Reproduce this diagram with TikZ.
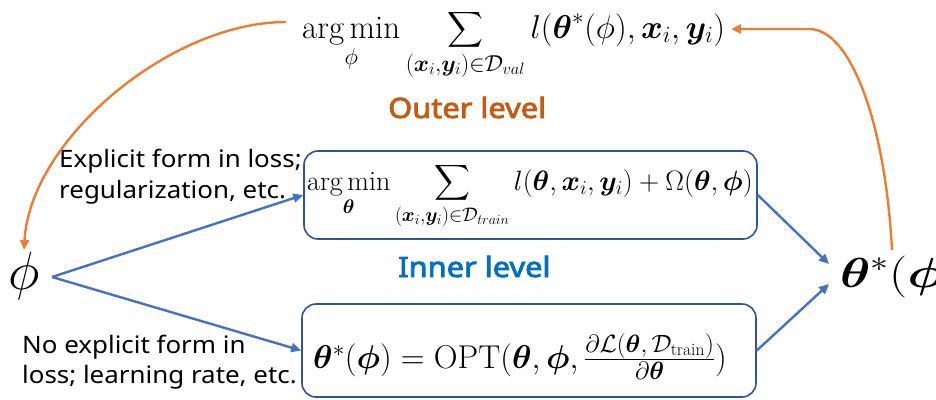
\RequirePackage{fix-cm}
\documentclass[tikz,border=0pt]{standalone}
\usepackage{amsmath,bm,graphicx}
\usepackage{fontspec}
\newfontfamily\sansf{Noto Sans}[FakeStretch=1.08]
\newfontfamily\sansbf{Noto Sans}[FakeBold=3, FakeStretch=1.1]
\usetikzlibrary{arrows.meta}
\definecolor{orangeA}{HTML}{ED7D31}
\definecolor{orangeT}{HTML}{C55A11}
\definecolor{blueA}{HTML}{4472C4}
\definecolor{blueT}{HTML}{0070C0}
\definecolor{boxB}{HTML}{2F5597}
\newcommand{\smallfr}[1]{\text{\fontsize{25}{30}\selectfont$#1$}}
\begin{document}
\begin{tikzpicture}[x=1pt,y=-1pt,
  mbox/.style={draw=boxB, line width=1.6pt, rounded corners=14pt, inner sep=0pt},
  formula/.style={inner sep=0pt, anchor=base},
  bluearrow/.style={draw=blueA, line width=2.4pt, -{Triangle[length=10pt,width=9pt]}},
  orangearrow/.style={draw=orangeA, line width=2.4pt, -{Triangle[length=10pt,width=9pt]}},
  lbl/.style={font=\sansf\fontsize{24}{28}\selectfont, inner sep=0pt, anchor=base west},
  lvl/.style={font=\sansbf\fontsize{28}{32}\selectfont, inner sep=0pt, anchor=base west}]
\useasboundingbox (0,0) rectangle (936,399);
% top formula
\node[inner sep=0pt, anchor=base west] (outer) at (302,38)
  {\fontsize{33}{40}\selectfont $\displaystyle \mathop{\arg\min}_{\phi}\sum_{(\bm{x}_i,\bm{y}_i)\in\mathcal{D}_{val}} l(\bm{\theta}^*(\phi),\bm{x}_i,\bm{y}_i)$};
\node[lvl, text=orangeT] (outerlbl) at (388,118) {Outer level};
% boxes
\node[mbox, minimum width=453pt, minimum height=88pt] (inner1) at (530.5,195) {};
\node[formula] (f1) at (530,190)
  {\fontsize{28}{34}\selectfont $\displaystyle \mathop{\arg\min}_{\bm{\theta}}\sum_{(\bm{x}_i,\bm{y}_i)\in\mathcal{D}_{train}} l(\bm{\theta},\bm{x}_i,\bm{y}_i)+\Omega(\bm{\theta},\bm{\phi})$};
\node[mbox, minimum width=454pt, minimum height=93pt] (inner2) at (529,350.5) {};
\node[formula] (f2) at (520,368)
  {\fontsize{33}{40}\selectfont $\bm{\theta}^*(\bm{\phi})=\mathrm{OPT}(\bm{\theta},\bm{\phi},\frac{\smallfr{\partial\mathcal{L}(\bm{\theta},\mathcal{D}_{\mathrm{train}})}}{\smallfr{\partial\bm{\theta}}})$};
\node[lvl, text=blueT] (innerlbl) at (398,277) {Inner level};
% side labels
\node[lbl] (e1) at (59,167) {Explicit form in loss;};
\node[lbl] (e2) at (59,198) {regularization, etc.};
\node[lbl] (n1) at (22,353) {No explicit form in};
\node[lbl] (n2) at (22,383) {loss; learning rate, etc.};
% phi and theta
\node[inner sep=0pt] (phi) at (24,276) {\fontsize{54}{60}\selectfont$\phi$};
\node[anchor=base west, inner sep=0pt] (theta) at (840,287) {\scalebox{1.22}[1]{\fontsize{42}{50}\selectfont$\bm{\theta}^*(\bm{\phi})$}};
% connector ends
\coordinate (phiR) at (52,277);
\coordinate (thA) at (829,264);
\coordinate (thB) at (829,284);
\coordinate (outL) at (286,22);
\coordinate (phiT) at (24,250);
\coordinate (thT) at (892,250);
\coordinate (outR) at (731,29);
% arrows
\draw[bluearrow] (phiR) -- (inner1.west);
\draw[bluearrow] (phiR) -- (inner2.west);
\draw[bluearrow] (inner1.east) -- (thA);
\draw[bluearrow] (inner2.east) -- (thB);
\draw[orangearrow] (outL) .. controls (170,22) and (30,140) .. (phiT);
\draw[orangearrow] (thT) .. controls (885,120) and (850,30) .. (810,29) -- (outR);
\end{tikzpicture}
\end{document}
